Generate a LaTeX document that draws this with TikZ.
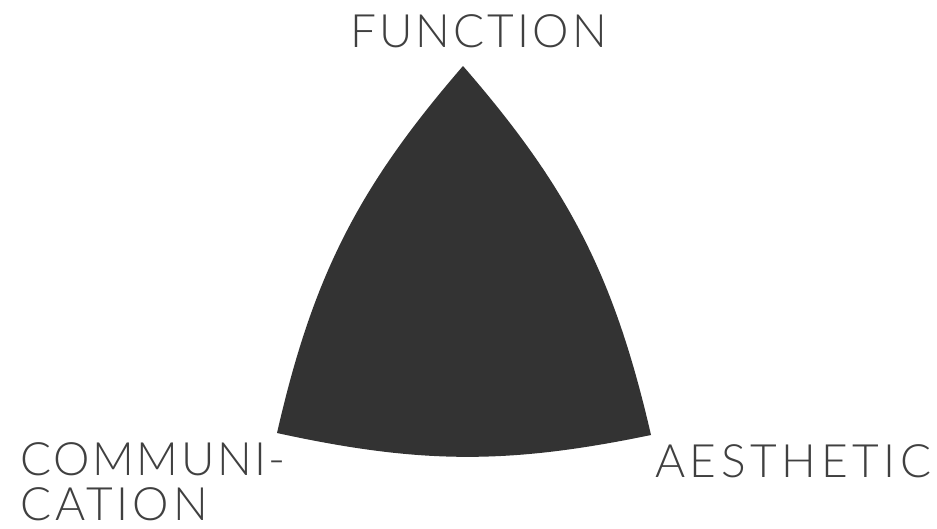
\documentclass[tikz,border=0pt]{standalone}
\usepackage{fontspec}
\setmainfont{Lato Light}
\begin{document}
\begin{tikzpicture}[x=1pt,y=-1pt]
\definecolor{shapefill}{HTML}{333333}
\definecolor{labelgray}{HTML}{404040}
\tikzset{
  lbl/.style={inner sep=0pt, text=labelgray, anchor=base west, font=\fontsize{46}{45}\selectfont},
}
\useasboundingbox[fill=white] (0,0) rectangle (937,528);
\coordinate (T) at (463,66);
\coordinate (L) at (277,433);
\coordinate (R) at (651,435);
\fill[shapefill] (T) to[bend right=14] (L) to[bend right=12] (R) to[bend right=14] (T) -- cycle;
\node[lbl] (fn) at (350,47) {\addfontfeature{LetterSpace=6.8}FUNCTION};
\node[lbl] (ae) at (655,477) {\addfontfeature{LetterSpace=10}AESTHETIC};
\node[lbl] (co1) at (20,475) {\addfontfeature{LetterSpace=5.6}COMMUNI-};
\node[lbl] (co2) at (20,520) {\addfontfeature{LetterSpace=8.7}CATION};
\end{tikzpicture}
\end{document}
